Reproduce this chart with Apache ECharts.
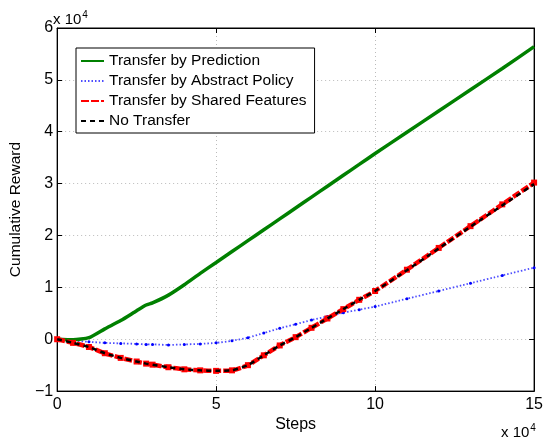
<!DOCTYPE html>
<html style="height: 100%">

<head>
    <meta charset="utf-8">
</head>

<body style="height: 100%; margin: 0; background: #fff">
    <div id="container" style="width: 546px; height: 438px"></div>
    <script src="https://cdn.jsdelivr.net/npm/echarts@6/dist/echarts.min.js"></script>
    <script type="text/javascript">
        // steps, in units of 10^4
        var steps = [0, 0.5, 1, 1.5, 2, 2.5, 2.8, 3, 3.5, 4, 4.5, 5, 5.5, 6, 6.5, 7, 7.5, 8, 8.5, 9, 9.5, 10, 11, 12, 13, 14, 15];
        // cumulative reward, in units of 10^4
        var prediction = [0, -0.01, 0.03, 0.2, 0.36, 0.55, 0.66, 0.7, 0.85, 1.05, 1.27, 1.48, 1.69, 1.9, 2.11, 2.32, 2.53, 2.74, 2.95, 3.16, 3.37, 3.58, 3.99, 4.4, 4.81, 5.22, 5.64];
        var abstractPolicy = [0, -0.03, -0.05, -0.07, -0.08, -0.09, -0.1, -0.1, -0.11, -0.1, -0.09, -0.07, -0.03, 0.03, 0.12, 0.21, 0.29, 0.37, 0.44, 0.51, 0.57, 0.63, 0.78, 0.93, 1.08, 1.23, 1.38];
        var sharedFeatures = [0, -0.07, -0.15, -0.27, -0.36, -0.43, -0.47, -0.49, -0.54, -0.58, -0.6, -0.61, -0.6, -0.5, -0.31, -0.12, 0.04, 0.22, 0.4, 0.58, 0.76, 0.93, 1.34, 1.76, 2.18, 2.6, 3.02];
        var noTransfer = [0, -0.07, -0.15, -0.27, -0.36, -0.43, -0.47, -0.49, -0.54, -0.58, -0.6, -0.61, -0.6, -0.5, -0.31, -0.12, 0.04, 0.22, 0.4, 0.58, 0.76, 0.93, 1.33, 1.75, 2.17, 2.58, 2.99];
        var names = ['Transfer by Prediction', 'Transfer by Abstract Policy', 'Transfer by Shared Features', 'No Transfer'];

        function pairs(ys) {
            return steps.map(function(x, i) { return [x, ys[i]]; });
        }

        var font = 'Liberation Sans, Arial, Helvetica, sans-serif';
        var dom = document.getElementById("container");
        var myChart = echarts.init(dom);

        var plainAxis = {
            axisLine: { show: true, onZero: false, lineStyle: { color: '#000', width: 1 } },
            axisTick: { show: true, inside: true, length: 5, lineStyle: { color: '#000' } },
            splitLine: { show: false },
            axisLabel: { show: false }
        };

        var exponent = {
            rich: {
                a: { fontFamily: font, fontSize: 15, fill: '#000' },
                b: { fontFamily: font, fontSize: 10, fill: '#000', padding: [0, 0, 9, 1] }
            },
            text: '{a|x 10}{b|4}'
        };

        var option = {
            animation: false,
            grid: { left: 53, right: 9, top: 28, bottom: 44, show: true, borderColor: '#000', borderWidth: 1 },
            legend: {
                data: names,
                orient: 'vertical',
                left: 76,
                top: 48,
                padding: [5, 8, 4, 4],
                itemGap: 4,
                itemWidth: 23,
                itemHeight: 14,
                itemStyle: { opacity: 0 },
                backgroundColor: '#fff',
                borderColor: '#000',
                borderWidth: 1,
                borderRadius: 0,
                textStyle: { fontFamily: font, fontSize: 15.5, color: '#000', lineHeight: 14 }
            },
            xAxis: [{
                type: 'value', min: 0, max: 15, interval: 5,
                name: 'Steps', nameLocation: 'middle', nameGap: 15,
                nameTextStyle: { fontFamily: font, fontSize: 16, color: '#000' },
                axisLine: { show: true, onZero: false, lineStyle: { color: '#000' } },
                axisTick: { show: true, inside: true, length: 5, lineStyle: { color: '#000' } },
                axisLabel: { fontFamily: font, fontSize: 16, color: '#000', margin: 5 },
                splitLine: { show: true, lineStyle: { color: '#bbb', type: [1, 3] } }
            }, Object.assign({ type: 'value', min: 0, max: 15, interval: 5, position: 'top' }, plainAxis)],
            yAxis: [{
                type: 'value', min: -1, max: 6, interval: 1,
                name: 'Cumulative Reward', nameLocation: 'middle', nameGap: 26,
                nameTextStyle: { fontFamily: font, fontSize: 15.5, color: '#000' },
                axisLine: { show: true, onZero: false, lineStyle: { color: '#000' } },
                axisTick: { show: true, inside: true, length: 5, lineStyle: { color: '#000' } },
                axisLabel: {
                    fontFamily: font, fontSize: 16, color: '#000', margin: 4,
                    formatter: function(v) { return String(v).replace('-', '\u2212'); }
                },
                splitLine: { show: true, lineStyle: { color: '#bbb', type: [1, 3] } }
            }, Object.assign({ type: 'value', min: -1, max: 6, interval: 1, position: 'right' }, plainAxis)],
            graphic: [{
                type: 'text', left: 53, top: 10, style: exponent
            }, {
                type: 'text', left: 501, top: 423, style: exponent
            }],
            series: [{
                name: names[0], type: 'line', data: pairs(prediction),
                symbol: 'none', smooth: 0.2,
                lineStyle: { color: '#008000', width: 3.5 },
                itemStyle: { color: '#008000' }, z: 4
            }, {
                name: names[1], type: 'line', data: pairs(abstractPolicy),
                symbol: 'circle', symbolSize: 3, smooth: 0.2,
                lineStyle: { color: '#4d4dff', width: 1.8, type: [1.5, 2] },
                itemStyle: { color: '#0000ff' }, z: 3
            }, {
                name: names[2], type: 'line', data: pairs(sharedFeatures),
                symbol: 'rect', symbolSize: 6, smooth: 0.2,
                lineStyle: { color: '#ff0000', width: 4.5, type: [8, 2] },
                itemStyle: { color: '#ff0000' }, z: 5
            }, {
                name: names[3], type: 'line', data: pairs(noTransfer),
                symbol: 'none', smooth: 0.2,
                lineStyle: { color: '#000', width: 2.5, type: [5, 4] },
                itemStyle: { color: '#000' }, z: 6
            }]
        };

        myChart.setOption(option);
    </script>
</body>

</html>
